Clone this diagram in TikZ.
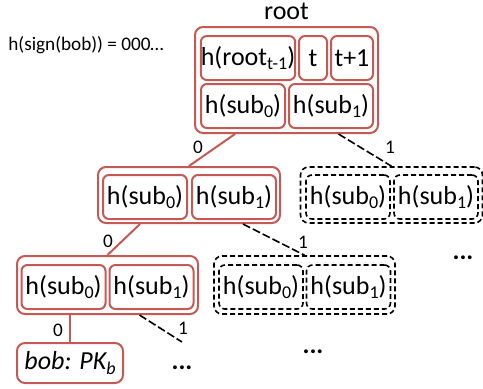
\documentclass[tikz,border=0pt]{standalone}
\usepackage{fontspec}
\setmainfont{Carlito}
\definecolor{boxred}{HTML}{C55A55}
\newcommand\lowidx[1]{\raisebox{-0.35ex}{\fontsize{9}{10}\selectfont #1}}
\begin{document}
\begin{tikzpicture}
      [
      x=0.5pt, y=-0.5pt,
      every node/.style={font=\fontsize{13}{15}\selectfont},
      cell/.style={rectangle,draw=boxred,line width=1pt,rounded corners=3pt,inner sep=0pt,minimum height=22pt,minimum width=42pt},
      group/.style={rectangle,draw=boxred,line width=1pt,rounded corners=4pt,inner sep=0pt},
      ghostcell/.style={cell,draw=black,line width=0.8pt,dash pattern=on 2.5pt off 1.5pt},
      ghostgroup/.style={group,draw=black,line width=0.8pt,dash pattern=on 2.5pt off 1.5pt},
      bit/.style={font=\fontsize{9.6}{11}\selectfont,inner sep=1pt},
      more/.style={font=\fontsize{13}{15}\selectfont\bfseries,inner sep=0pt},
      link/.style={draw=boxred,line width=1pt},
      ghostlink/.style={draw=black,line width=0.8pt,dash pattern=on 4pt off 1.5pt}
      ]
      \useasboundingbox (0,0) rectangle (483,388);
      \node (sig) at (6,45) [bit, anchor=west] {h(sign(bob)) = 000\ldots};
      % root
      \node (root) at (286.5,80) [group, minimum width=91.5pt, minimum height=53pt,
        label={[inner sep=1pt, label distance=2pt]above:root}] {};
      \node (prev) at (248,58) [cell, minimum width=47pt] {h(root\lowidx{t-1})};
      \node (t) at (313,58) [cell, minimum width=14pt] {t};
      \node (tnext) at (352,58) [cell, minimum width=21pt] {t+1};
      \node (rsub0) at (243,106) [cell] {h(sub\lowidx{0})};
      \node (rsub1) at (331,106) [cell] {h(sub\lowidx{1})};
      % level 1
      \node (L1) at (189,195) [group, minimum width=91pt, minimum height=28pt] {};
      \node (L1sub0) at (145,197) [cell] {h(sub\lowidx{0})};
      \node (L1sub1) at (234,197) [cell] {h(sub\lowidx{1})};
      \node (L1R) at (391.5,195) [ghostgroup, minimum width=91pt, minimum height=28pt] {};
      \node (L1Rsub0) at (348,197) [ghostcell] {h(sub\lowidx{0})};
      \node (L1Rsub1) at (436,197) [ghostcell] {h(sub\lowidx{1})};
      % level 2
      \node (L2) at (107.5,285) [group, minimum width=90.5pt, minimum height=29pt] {};
      \node (L2sub0) at (63.5,287) [cell] {h(sub\lowidx{0})};
      \node (L2sub1) at (151.5,287) [cell] {h(sub\lowidx{1})};
      \node (L2R) at (304.5,285) [ghostgroup, minimum width=90.5pt, minimum height=29pt] {};
      \node (L2Rsub0) at (261,287) [ghostcell] {h(sub\lowidx{0})};
      \node (L2Rsub1) at (348.5,287) [ghostcell] {h(sub\lowidx{1})};
      % leaf
      \node (bob) at (70,363) [cell, rounded corners=4pt, minimum width=53pt, minimum height=20pt] {\textit{bob: PK\lowidx{b}}};
      \coordinate (open) at (182,342);
      \node (more1) at (463,258) [more] {...};
      \node (more2) at (313,352) [more] {...};
      \node (more3) at (182,368) [more] {...};
      \draw [link] ([xshift=-25.75pt]root.south) to (L1.north);
      \draw [ghostlink] ([xshift=26pt]root.south) to (L1R.north);
      \draw [link] ([xshift=-24.5pt]L1.south) to (L2.north);
      \draw [ghostlink] ([xshift=27pt]L1.south) to (L2R.north);
      \draw [link] (bob.north |- L2.south) to (bob.north);
      \draw [ghostlink] ([xshift=16pt]L2.south) to (open);
      \node (b0a) at (198,147) [bit] {0};
      \node (b1a) at (390,147) [bit] {1};
      \node (b0b) at (108,241) [bit] {0};
      \node (b1b) at (303,242) [bit] {1};
      \node (b0c) at (58,330) [bit] {0};
      \node (b1c) at (183,328) [bit] {1};
    \end{tikzpicture}
\end{document}
